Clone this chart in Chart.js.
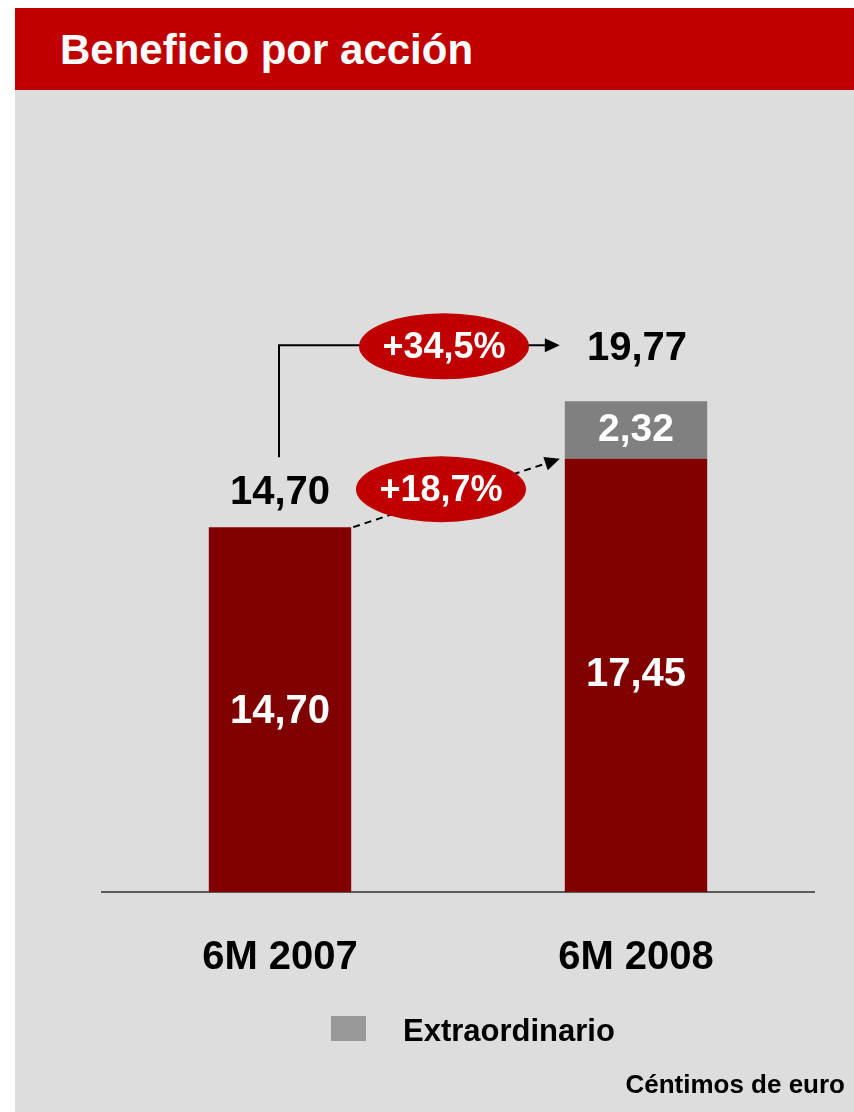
<!DOCTYPE html>
<html>
<head>
<meta charset="utf-8">
<script src="https://cdn.jsdelivr.net/npm/chart.js@4.4.0/dist/chart.umd.min.js"></script>
<style>
  body { margin: 0; width: 854px; height: 1112px; background: #fff; position: relative; overflow: hidden; font-family: 'Liberation Sans', Arial, sans-serif; }
  #header { position: absolute; left: 15px; top: 8px; width: 839px; height: 82px; background: #c00000; }
  #header h1 { margin: 0; position: absolute; left: 45px; top: 21px; font-size: 42px; line-height: 42px; color: #fff; font-weight: bold; white-space: nowrap; }
  #panel { position: absolute; left: 15px; top: 90px; width: 839px; height: 1022px; background: #dddddd; }
  #chart { position: absolute; left: 0; top: 0; }
</style>
</head>
<body>
<div id="header"><h1>Beneficio por acción</h1></div>
<div id="panel"></div>
<canvas id="chart" width="854" height="1112"></canvas>
<script>
// datos (céntimos de euro)
const periods = ['6M 2007', '6M 2008'];
const ordinary = [14.70, 17.45];
const extraordinary = [0, 2.32];
const legendLabel = 'Extraordinario';
const unitNote = 'Céntimos de euro';

const FONT = "'Liberation Sans', Arial, sans-serif";
const DARK_RED = '#800000';
const GREY = '#808080';
const BADGE = '#c00000';

const fmt = v => v.toFixed(2).replace('.', ',');
const pct = v => '+' + v.toFixed(1).replace('.', ',') + '%';

const totals = ordinary.map((v, i) => v + extraordinary[i]);
const growthTotal = (totals[1] / totals[0] - 1) * 100;
const growthOrdinary = (ordinary[1] / ordinary[0] - 1) * 100;

function arrowHead(ctx, x, y, angle, len, half) {
    ctx.save();
    ctx.translate(x, y);
    ctx.rotate(angle);
    ctx.beginPath();
    ctx.moveTo(0, 0);
    ctx.lineTo(-len, -half);
    ctx.lineTo(-len, half);
    ctx.closePath();
    ctx.fill();
    ctx.restore();
}

function badge(ctx, cx, cy, text) {
    ctx.fillStyle = BADGE;
    ctx.beginPath();
    ctx.ellipse(cx, cy, 85, 33, 0, 0, Math.PI * 2);
    ctx.fill();
    ctx.fillStyle = '#fff';
    ctx.font = 'bold 36px ' + FONT;
    ctx.fillText(text, cx, cy + 2);
}

const annotate = {
    id: 'annotate',
    afterDatasetsDraw(chart) {
        const ctx = chart.ctx;
        const base = chart.getDatasetMeta(0).data;
        const extra = chart.getDatasetMeta(1).data;
        const b0 = base[0], b1 = base[1], e1 = extra[1];
        const right0 = b0.x + b0.width / 2;
        const left1 = b1.x - b1.width / 2;

        ctx.save();
        ctx.strokeStyle = '#000';
        ctx.fillStyle = '#000';
        ctx.lineWidth = 2;

        // conector total (línea continua)
        const topY = e1.y - 56;
        const tipX = left1 - 5;
        ctx.beginPath();
        ctx.moveTo(b0.x - 1, b0.y - 70);
        ctx.lineTo(b0.x - 1, topY);
        ctx.lineTo(tipX - 12, topY);
        ctx.stroke();
        arrowHead(ctx, tipX, topY, 0, 15, 7);

        // conector ordinario (discontinuo)
        const x1 = right0 + 2, y1 = b0.y, x2 = left1 - 5, y2 = b1.y;
        const ang = Math.atan2(y2 - y1, x2 - x1);
        ctx.setLineDash([7, 5]);
        ctx.beginPath();
        ctx.moveTo(x1, y1);
        ctx.lineTo(x2 - 12 * Math.cos(ang), y2 - 12 * Math.sin(ang));
        ctx.stroke();
        ctx.setLineDash([]);
        arrowHead(ctx, x2, y2, ang, 15, 7);

        ctx.textAlign = 'center';
        ctx.textBaseline = 'middle';

        const mid = (right0 + left1) / 2;
        badge(ctx, mid - 14, topY + 1, pct(growthTotal));
        badge(ctx, mid - 17, b0.y - 38, pct(growthOrdinary));

        // etiquetas
        ctx.fillStyle = '#000';
        ctx.font = 'bold 40px ' + FONT;
        ctx.fillText(fmt(totals[0]), b0.x, b0.y - 34);
        ctx.fillText(fmt(totals[1]), b1.x + 1, e1.y - 52);

        ctx.fillStyle = '#fff';
        ctx.fillText(fmt(ordinary[0]), b0.x, (b0.y + b0.base) / 2 + 2);
        ctx.fillText(fmt(ordinary[1]), b1.x, (b1.y + b1.base) / 2);
        ctx.font = 'bold 39px ' + FONT;
        ctx.fillText(fmt(extraordinary[1]), e1.x, (e1.y + e1.base) / 2);

        // leyenda y nota
        ctx.fillStyle = '#999999';
        ctx.fillRect(331, 1016, 35, 25);
        ctx.fillStyle = '#000';
        ctx.textAlign = 'left';
        ctx.textBaseline = 'alphabetic';
        ctx.font = 'bold 31px ' + FONT;
        ctx.fillText(legendLabel, 403, 1041);
        ctx.textAlign = 'right';
        ctx.font = 'bold 26px ' + FONT;
        ctx.fillText(unitNote, 845, 1093);
        ctx.restore();
    }
};

new Chart(document.getElementById('chart'), {
    type: 'bar',
    data: {
        labels: periods,
        datasets: [
            { label: 'Ordinario', data: ordinary, backgroundColor: DARK_RED },
            { label: legendLabel, data: extraordinary, backgroundColor: GREY }
        ]
    },
    options: {
        responsive: false,
        animation: false,
        events: [],
        layout: { padding: { left: 102, right: 40, top: 197, bottom: 88 } },
        datasets: { bar: { categoryPercentage: 0.4, barPercentage: 1 } },
        scales: {
            x: {
                stacked: true,
                grid: { display: false, drawTicks: false },
                border: { display: true, color: '#5a5a5a', width: 2 },
                ticks: { color: '#000', padding: 42, font: { family: FONT, size: 40, weight: 'bold' } }
            },
            y: { stacked: true, display: false, min: 0, max: 28 }
        },
        plugins: { legend: { display: false }, tooltip: { enabled: false } }
    },
    plugins: [annotate]
});
</script>
</body>
</html>
